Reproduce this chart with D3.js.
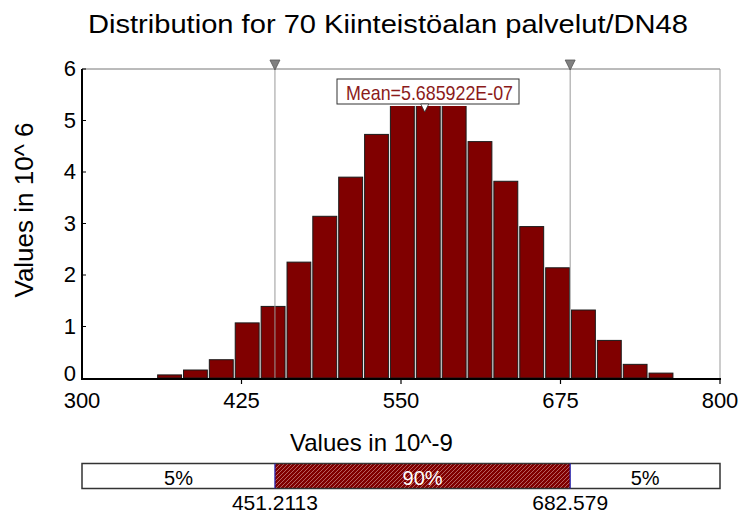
<!DOCTYPE html>
<html><head><meta charset="utf-8">
<script src="https://cdn.jsdelivr.net/npm/d3@7"></script>
<style>body{margin:0;background:#fff}svg{display:block;font-family:Arial,"Liberation Sans",sans-serif}</style>
</head><body><svg id="c" width="742" height="515"></svg>
<script>
const title = "Distribution for 70 Kiinteistöalan palvelut/DN48";
const binEdges = [358.5, 378.8, 399.0, 419.3, 439.6, 459.9, 480.1, 500.4, 520.7, 540.9, 561.2, 581.5, 601.8, 622.0, 642.3, 662.6, 682.8, 703.1, 723.4, 743.6, 763.9];
const binValues = [0.06, 0.155, 0.355, 1.07, 1.39, 2.25, 3.14, 3.90, 4.73, 5.35, 5.55, 5.40, 4.59, 3.82, 2.94, 2.14, 1.32, 0.73, 0.265, 0.095];
const xTicks = [300, 425, 550, 675, 800];
const yTicks = [0, 1, 2, 3, 4, 5, 6];
const lowerBound = 451.2113, upperBound = 682.579;
const meanValue = 568.5922;
const meanLabel = "Mean=5.685922E-07";
const pctLabels = ["5%", "90%", "5%"];
const boundLabels = ["451.2113", "682.579"];

const svg = d3.select("#c");
const L = 82, R = 720, T = 69, B = 378;
const x = d3.scaleLinear().domain([300, 800]).range([L, R]);
const y = d3.scaleLinear().domain([0, 6]).range([B, T]);

svg.append("text").attr("x", 88).attr("y", 33).attr("text-anchor", "start")
  .attr("font-size", 26).attr("textLength", 600).attr("lengthAdjust", "spacingAndGlyphs")
  .attr("fill", "#000").text(title);

// hatch pattern
const defs = svg.append("defs");
const pat = defs.append("pattern").attr("id", "hatch").attr("patternUnits", "userSpaceOnUse")
  .attr("width", 4).attr("height", 4);
pat.append("rect").attr("width", 4).attr("height", 4).attr("fill", "#800000");
pat.append("path").attr("d", "M-1,1 L1,-1 M0,4 L4,0 M3,5 L5,3").attr("stroke", "#c47a7a").attr("stroke-width", 0.8);

// frame
svg.append("line").attr("x1", L).attr("x2", R).attr("y1", T).attr("y2", T).attr("stroke", "#777").attr("stroke-width", 1);
svg.append("line").attr("x1", R).attr("x2", R).attr("y1", T).attr("y2", B).attr("stroke", "#999").attr("stroke-width", 1);

// bars
const bins = binValues.map((v, i) => ({lo: binEdges[i], hi: binEdges[i + 1], v}));
svg.append("g").selectAll("rect").data(bins).join("rect")
  .attr("x", d => x(d.lo) + 1).attr("width", d => x(d.hi) - x(d.lo) - 2)
  .attr("y", d => y(d.v)).attr("height", d => y(0) - y(d.v))
  .attr("fill", "#800000").attr("stroke", "#1a1a1a").attr("stroke-width", 1);

// bound lines
[lowerBound, upperBound].forEach(b => {
  svg.append("line").attr("x1", x(b)).attr("x2", x(b)).attr("y1", T).attr("y2", B)
    .attr("stroke", "#999").attr("stroke-width", 1);
  svg.append("path").attr("d", `M${x(b) - 5},60 L${x(b) + 5},60 L${x(b)},70 Z`)
    .attr("fill", "#808080").attr("stroke", "#555").attr("stroke-width", 0.8);
});

// axes
svg.append("line").attr("x1", L).attr("x2", L).attr("y1", T).attr("y2", B + 2).attr("stroke", "#000").attr("stroke-width", 2);
svg.append("line").attr("x1", L).attr("x2", R + 1).attr("y1", B + 1).attr("y2", B + 1).attr("stroke", "#000").attr("stroke-width", 2);
svg.append("g").selectAll("line").data(xTicks.slice(1)).join("line")
  .attr("x1", d => x(d)).attr("x2", d => x(d)).attr("y1", B).attr("y2", B + 6)
  .attr("stroke", "#000").attr("stroke-width", 1.2);
svg.append("g").selectAll("line").data(yTicks.slice(1)).join("line")
  .attr("x1", L).attr("x2", L + 4).attr("y1", d => y(d)).attr("y2", d => y(d))
  .attr("stroke", "#000").attr("stroke-width", 1);
svg.append("g").selectAll("text").data(xTicks).join("text")
  .attr("x", d => x(d)).attr("y", 408).attr("text-anchor", "middle")
  .attr("font-size", 22).text(d => d);

svg.append("g").selectAll("text").data(yTicks).join("text")
  .attr("x", 76).attr("y", d => d === 0 ? y(d) + 3 : y(d) + 7).attr("text-anchor", "end")
  .attr("font-size", 22).text(d => d);

svg.append("text").attr("transform", "translate(33,210) rotate(-90)").attr("text-anchor", "middle")
  .attr("font-size", 26).text("Values in 10^ 6");
svg.append("text").attr("x", 371.5).attr("y", 451).attr("text-anchor", "middle")
  .attr("font-size", 24).text("Values in 10^-9");

// mean label
const mx = x(meanValue);
svg.append("rect").attr("x", 336).attr("y", 77).attr("width", 185).attr("height", 29).attr("fill", "#fff");
svg.append("rect").attr("x", 337).attr("y", 79).attr("width", 182).attr("height", 25)
  .attr("fill", "#fff").attr("stroke", "#333").attr("stroke-width", 1);
svg.append("text").attr("x", 346).attr("y", 100).attr("text-anchor", "start")
  .attr("font-size", 21).attr("textLength", 167).attr("lengthAdjust", "spacingAndGlyphs")
  .attr("fill", "#8b1a1a").text(meanLabel);
svg.append("path").attr("d", `M${mx - 4},104 L${mx + 4},104 L${mx},112 Z`)
  .attr("fill", "#fff").attr("stroke", "#333").attr("stroke-width", 0.8);

// bottom bar
const bT = 463.5, bH = 25;
svg.append("rect").attr("x", x(lowerBound)).attr("y", bT).attr("width", x(upperBound) - x(lowerBound)).attr("height", bH).attr("fill", "url(#hatch)");
svg.append("rect").attr("x", L).attr("y", bT).attr("width", R - L).attr("height", bH)
  .attr("fill", "none").attr("stroke", "#333").attr("stroke-width", 1.5);
[lowerBound, upperBound].forEach(b => {
  svg.append("line").attr("x1", x(b)).attr("x2", x(b)).attr("y1", bT).attr("y2", bT + bH).attr("stroke", "#2020b0").attr("stroke-width", 1.2);
});
const segCenters = [(L + x(lowerBound)) / 2, (x(lowerBound) + x(upperBound)) / 2, (x(upperBound) + R) / 2];
svg.append("g").selectAll("text").data(pctLabels).join("text")
  .attr("x", (d, i) => segCenters[i]).attr("y", 485).attr("text-anchor", "middle")
  .attr("font-size", 20).attr("fill", (d, i) => i === 1 ? "#fff" : "#000").text(d => d);
svg.append("g").selectAll("text").data(boundLabels).join("text")
  .attr("x", (d, i) => x([lowerBound, upperBound][i])).attr("y", 510).attr("text-anchor", "middle")
  .attr("font-size", 21).text(d => d);
</script></body></html>
